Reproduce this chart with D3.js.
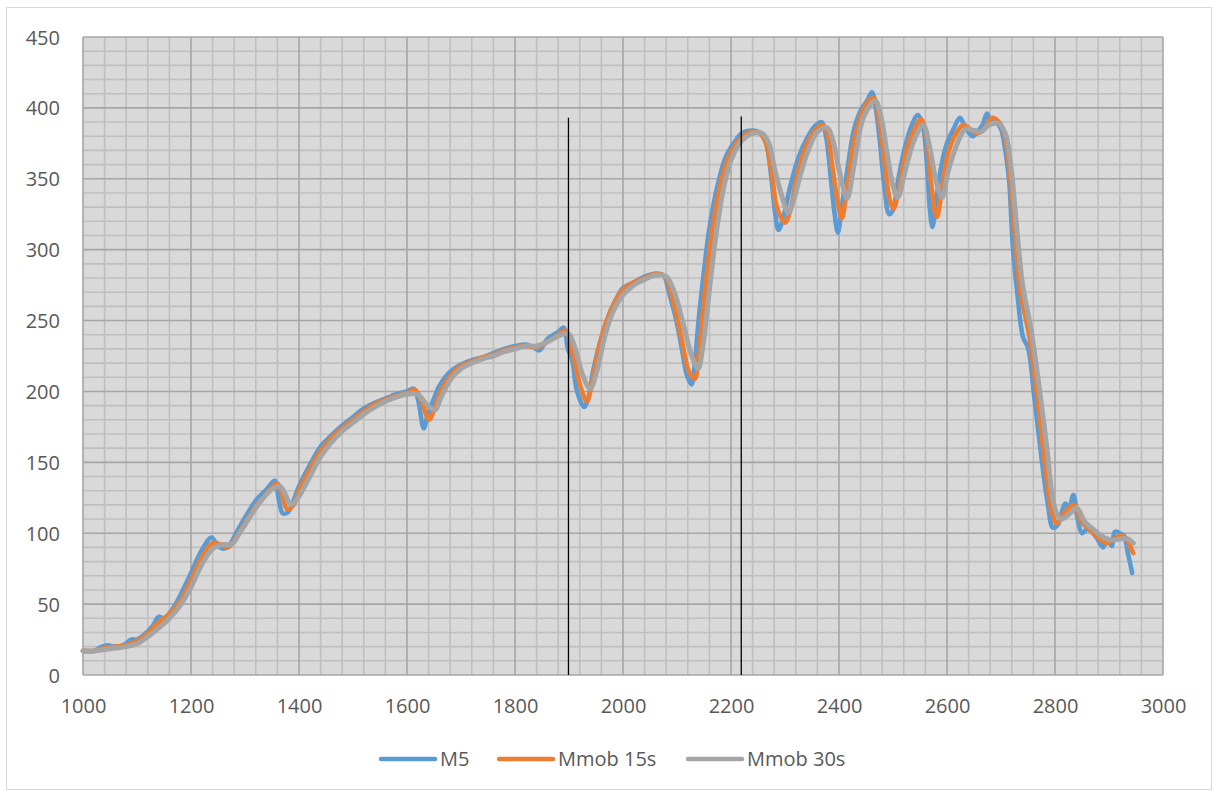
<!DOCTYPE html>
<html><head><meta charset="utf-8">
<script src="https://cdn.jsdelivr.net/npm/d3@7"></script>
<style>html,body{margin:0;padding:0;background:#fff;}svg{display:block;font-family:"Open Sans",sans-serif;}</style>
</head><body>
<svg id="c" width="1213" height="791"></svg>
<script>
const seriesNames = ["M5", "Mmob 15s", "Mmob 30s"];
const seriesColors = ["#5b9bd5", "#ed7d31", "#a5a5a5"];
const xTicks = [1000,1200,1400,1600,1800,2000,2200,2400,2600,2800,3000];
const yTicks = [0,50,100,150,200,250,300,350,400,450];
const markerX = [1899, 2219];
const markerTop = [393, 394];

const m5 = [[1000,17],[1020,17],[1035,20],[1045,21],[1060,20],[1075,21],[1090,25],[1100,25],[1115,29],[1130,35],[1140,41],[1150,40],[1165,46],[1180,56],[1200,72],[1220,88],[1238,97],[1248,92],[1260,89],[1270,91],[1285,101],[1300,111],[1320,123],[1340,131],[1355,137],[1362,125],[1370,114],[1380,115],[1390,123],[1400,133],[1420,148],[1440,161],[1460,169],[1480,176],[1500,182],[1520,188],[1540,192],[1560,195],[1580,198],[1600,200],[1612,202],[1620,195],[1631,174],[1638,183],[1648,193],[1660,204],[1680,214],[1700,219],[1720,222],[1740,224],[1760,227],[1780,230],[1800,232],[1820,233],[1835,231],[1845,229],[1860,237],[1880,242],[1890,245],[1898,230],[1906,222],[1915,200],[1928,189],[1936,196],[1945,215],[1960,238],[1975,255],[1990,267],[2000,273],[2020,277],[2040,281],[2060,283],[2075,282],[2085,270],[2100,248],[2110,228],[2118,212],[2127,205],[2133,220],[2140,250],[2150,285],[2160,315],[2175,345],[2190,365],[2205,375],[2220,382],[2240,384],[2255,382],[2265,375],[2275,350],[2282,325],[2288,314],[2295,320],[2310,345],[2325,365],[2340,378],[2355,387],[2368,390],[2376,380],[2385,350],[2392,325],[2398,312],[2405,330],[2415,355],[2428,385],[2440,398],[2452,405],[2461,411],[2468,400],[2476,375],[2484,345],[2493,325],[2500,328],[2510,350],[2522,372],[2535,388],[2546,395],[2555,388],[2563,360],[2568,330],[2573,316],[2580,335],[2590,360],[2600,375],[2612,385],[2624,393],[2634,386],[2648,380],[2658,384],[2666,388],[2674,396],[2682,390],[2690,390],[2700,385],[2708,370],[2715,349],[2722,302],[2730,270],[2741,238],[2750,231],[2762,195],[2776,150],[2787,120],[2796,104],[2805,106],[2812,114],[2819,121],[2826,118],[2834,127],[2842,110],[2850,100],[2860,103],[2875,98],[2889,90],[2897,96],[2905,91],[2911,101],[2920,100],[2928,98],[2935,86],[2943,72]];

const mmob15 = [[1000,17],[1020,17],[1040,19],[1060,20],[1080,21],[1100,24],[1120,29],[1140,37],[1160,43],[1180,52],[1200,67],[1220,83],[1240,93],[1255,92],[1268,90],[1280,95],[1300,107],[1320,119],[1340,128],[1360,135],[1368,128],[1378,117],[1390,120],[1400,130],[1420,145],[1440,158],[1460,167],[1480,174],[1500,180],[1520,186],[1540,191],[1560,194],[1580,197],[1600,199],[1615,201],[1625,195],[1641,180],[1650,187],[1662,200],[1680,211],[1700,218],[1720,221],[1740,224],[1760,226],[1780,229],[1800,231],[1820,232],[1840,231],[1860,235],[1880,240],[1893,243],[1905,230],[1920,205],[1933,193],[1942,205],[1955,230],[1970,250],[1985,263],[2000,272],[2020,277],[2040,280],[2060,283],[2078,281],[2092,265],[2108,238],[2122,214],[2133,209],[2140,225],[2150,265],[2162,305],[2177,340],[2192,362],[2210,375],[2230,382],[2248,383],[2262,378],[2275,355],[2285,330],[2300,319],[2310,328],[2320,348],[2333,367],[2350,381],[2367,388],[2377,384],[2387,360],[2397,335],[2405,322],[2414,340],[2427,375],[2442,396],[2455,405],[2465,407],[2475,390],[2485,360],[2494,335],[2501,329],[2512,345],[2525,370],[2540,385],[2552,392],[2562,380],[2571,345],[2581,323],[2590,340],[2600,365],[2614,380],[2630,388],[2646,384],[2656,382],[2668,385],[2684,393],[2696,390],[2706,382],[2716,355],[2726,310],[2736,270],[2752,240],[2766,200],[2781,150],[2794,115],[2803,107],[2813,112],[2826,118],[2836,120],[2849,108],[2863,103],[2880,97],[2895,93],[2910,96],[2920,98],[2930,97],[2940,90],[2945,86]];

const mmob30 = [[1000,17],[1020,17],[1040,18],[1060,19],[1080,20],[1100,22],[1120,27],[1140,33],[1160,40],[1180,49],[1200,62],[1220,78],[1240,89],[1260,92],[1275,92],[1290,100],[1310,112],[1330,123],[1350,131],[1365,133],[1375,127],[1385,120],[1400,126],[1420,140],[1440,154],[1460,164],[1480,172],[1500,178],[1520,184],[1540,189],[1560,193],[1580,196],[1600,198],[1620,198],[1638,190],[1652,187],[1662,195],[1680,208],[1700,216],[1720,220],[1740,223],[1760,225],[1780,228],[1800,230],[1820,232],[1840,232],[1860,235],[1880,239],[1898,241],[1910,232],[1925,212],[1939,202],[1952,215],[1965,237],[1980,255],[2000,268],[2020,275],[2040,279],[2060,282],[2080,281],[2095,270],[2110,250],[2125,228],[2139,216],[2148,232],[2158,265],[2172,310],[2187,345],[2202,365],[2220,377],[2240,382],[2258,382],[2270,375],[2282,355],[2294,338],[2306,326],[2316,335],[2328,352],[2343,370],[2360,383],[2378,386],[2388,378],[2398,360],[2407,345],[2415,336],[2428,360],[2445,393],[2467,405],[2477,395],[2489,368],[2500,345],[2509,337],[2522,355],[2540,378],[2556,388],[2568,372],[2580,348],[2591,337],[2602,355],[2617,373],[2634,385],[2650,384],[2662,383],[2678,388],[2695,389],[2708,382],[2718,360],[2728,320],[2740,275],[2755,245],[2770,205],[2785,160],[2798,120],[2810,110],[2825,113],[2840,118],[2855,108],[2870,103],[2890,97],[2905,95],[2920,96],[2935,96],[2945,93]];

const allSeries = [m5, mmob15, mmob30];

const svg = d3.select("#c");
const L = 83, R = 1163, T = 37, B = 675;
const x = d3.scaleLinear().domain([1000, 3000]).range([L, R]);
const y = d3.scaleLinear().domain([0, 450]).range([B, T]);

// outer chart border
svg.append("rect").attr("x", 6.5).attr("y", 7.5).attr("width", 1205).attr("height", 782)
  .attr("fill", "#fff").attr("stroke", "#d9d9d9").attr("stroke-width", 1);

// plot background
svg.append("rect").attr("x", L).attr("y", T).attr("width", R - L).attr("height", B - T).attr("fill", "#d9d9d9");

const g = svg.append("g");
// minor grid
const minorX = d3.range(1000, 3001, 40).filter(v => v % 200 !== 0);
const minorY = d3.range(0, 451, 10).filter(v => v % 50 !== 0);
g.selectAll(".mx").data(minorX).join("line").attr("class","mx")
  .attr("x1", d => x(d)).attr("x2", d => x(d)).attr("y1", T).attr("y2", B)
  .attr("stroke", "#bfbfbf").attr("stroke-width", 1.6);
g.selectAll(".my").data(minorY).join("line").attr("class","my")
  .attr("x1", L).attr("x2", R).attr("y1", d => y(d)).attr("y2", d => y(d))
  .attr("stroke", "#bfbfbf").attr("stroke-width", 1.6);
// major grid
g.selectAll(".Mx").data(xTicks).join("line").attr("class","Mx")
  .attr("x1", d => x(d)).attr("x2", d => x(d)).attr("y1", T).attr("y2", B)
  .attr("stroke", "#a6a6a6").attr("stroke-width", 1.6);
g.selectAll(".My").data(yTicks).join("line").attr("class","My")
  .attr("x1", L).attr("x2", R).attr("y1", d => y(d)).attr("y2", d => y(d))
  .attr("stroke", "#a6a6a6").attr("stroke-width", 1.6);

// axes labels
const xAxis = d3.axisBottom(x).tickValues(xTicks).tickSize(0).tickPadding(0).tickFormat(d3.format("d"));
const xa = svg.append("g").attr("transform", `translate(0,${B})`).call(xAxis);
xa.select(".domain").remove();
xa.selectAll("text").attr("y", 0).attr("dy", 0).attr("transform", "translate(0,38)")
  .attr("fill", "#595959").style("font-size", "20px").style("font-family", "'Open Sans',sans-serif");

const yAxis = d3.axisLeft(y).tickValues(yTicks).tickSize(0).tickPadding(0).tickFormat(d3.format("d"));
const ya = svg.append("g").attr("transform", `translate(60,0)`).call(yAxis);
ya.select(".domain").remove();
ya.selectAll("text").attr("x", 0).attr("dy", "0.35em")
  .attr("fill", "#595959").style("font-size", "20px").style("font-family", "'Open Sans',sans-serif");

// series
const line = d3.line().x(d => x(d[0])).y(d => y(d[1])).curve(d3.curveCatmullRom.alpha(0.5));
const widths = [4.6, 4.6, 5];
allSeries.forEach((s, i) => {
  svg.append("path").datum(s).attr("d", line).attr("fill", "none")
    .attr("stroke", seriesColors[i]).attr("stroke-width", widths[i])
    .attr("stroke-linejoin", "round").attr("stroke-linecap", "round");
});

// vertical marker lines
svg.selectAll(".mk").data(markerX).join("line").attr("class","mk")
  .attr("x1", d => x(d)).attr("x2", d => x(d))
  .attr("y1", (d, i) => y(markerTop[i])).attr("y2", y(0))
  .attr("stroke", "#000").attr("stroke-width", 1.3);

// legend
const legX = [381, 499, 688];
const leg = svg.append("g");
seriesNames.forEach((n, i) => {
  leg.append("line").attr("x1", legX[i]).attr("x2", legX[i] + 54).attr("y1", 759).attr("y2", 759)
    .attr("stroke", seriesColors[i]).attr("stroke-width", 4.5).attr("stroke-linecap", "round");
  leg.append("text").attr("x", legX[i] + 59).attr("y", 766).text(n)
    .attr("fill", "#595959").style("font-size", "20px");
});
</script>
</body></html>
